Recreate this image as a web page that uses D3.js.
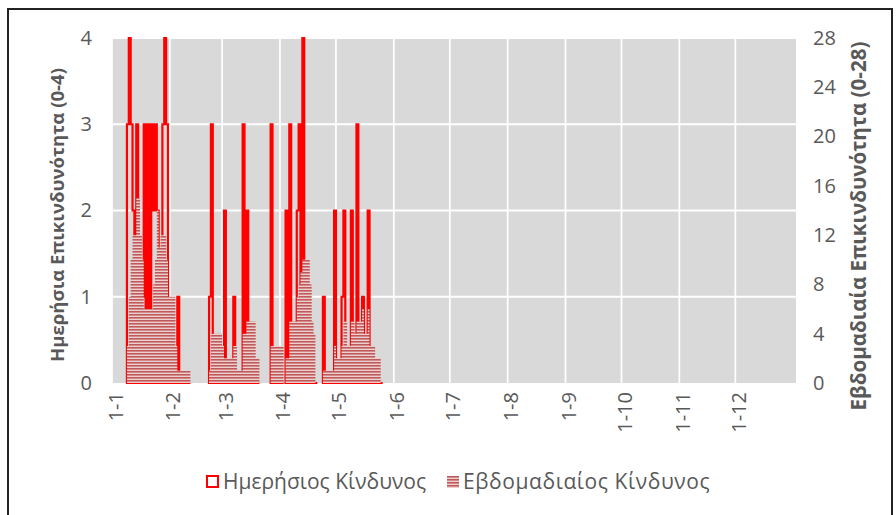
<!DOCTYPE html>
<html>
<head>
<meta charset="utf-8">
<script src="https://d3js.org/d3.v7.min.js"></script>
<style>
  body { margin: 0; background: #fff; }
  svg { display: block; }
  text { font-family: "Open Sans", sans-serif; fill: #595959; }
</style>
</head>
<body>
<div id="chart"></div>
<script>
// day 0 = 1 January, one value per day, null = no record
const startDay = "2019-01-01";
const monthLabels = ["1-1", "1-2", "1-3", "1-4", "1-5", "1-6", "1-7", "1-8", "1-9", "1-10", "1-11", "1-12"];
const leftTicks = [0, 1, 2, 3, 4];
const rightTicks = [0, 4, 8, 12, 16, 20, 24, 28];
const seriesNames = ["Ημερήσιος Κίνδυνος", "Εβδομαδιαίος Κίνδυνος"];
const axisTitles = ["Ημερήσια Επικινδυνότητα (0-4)", "Εβδομαδιαία Επικινδυνότητα (0-28)"];

const dailyRisk = [
  null, null, null, null, null, null, null, null,
  3, 4, 3, 2, 0, 3, 0, 0, 1, 3, 0, 3, 0, 3, 2, 3, 2, 1, 1, 3, 4, 3, 0, 0, 0, 0, 0, 1, 0, 0, 0, 0, 0, 0,
  null, null, null, null, null, null, null, null, null, null,
  1, 3, 0, 0, 0, 0, 0, 0, 2, 0, 0, 0, 0, 1, 0, 0, 0, 0, 3, 0, 2, 0, 0, 0, 0, 0, 0,
  null, null, null, null, null, null,
  3, 0, 0, 0, 0, 0, 0,
  null,
  2, 0, 3, 0, 0, 0, 2, 3, 1, 4, 0, 0, 0, 0, 0, 0, 0,
  null, null, null,
  1, 0, 0, 0, 0, 0, 2, 0, 0, 0, 1, 2, 0, 0, 0, 2, 0, 0, 3, 0, 0, 1, 0, 0, 2, 0, 0, 0, 0, 0, 0, 0
];

const weeklyRisk = [
  null, null, null, null, null, null, null, null,
  3, 7, 10, 12, 12, 15, 15, 12, 10, 6, 6, 6, 6, 6, 8, 10, 14, 11, 12, 12, 12, 10, 7, 7, 7, 7, 3, 1, 1, 1, 1, 1, 1, 1,
  null, null, null, null, null, null, null, null, null, null,
  1, 4, 4, 4, 4, 4, 4, 3, 2, 2, 2, 2, 2, 3, 3, 1, 1, 1, 4, 4, 5, 5, 5, 5, 5, 2, 2,
  null, null, null, null, null, null,
  3, 3, 3, 3, 3, 3, 3,
  null,
  2, 2, 5, 5, 5, 5, 7, 8, 9, 10, 10, 10, 10, 8, 5, 4, 0,
  null, null, null,
  1, 1, 1, 1, 1, 1, 3, 2, 2, 2, 3, 5, 5, 3, 3, 5, 5, 4, 5, 5, 5, 6, 4, 4, 6, 3, 3, 3, 2, 2, 2, 0
];

document.addEventListener('DOMContentLoaded', function () {
    const W = 896, H = 515;
    const margin = {top: 38, right: 100, bottom: 132, left: 112};
    const width = W - margin.left - margin.right;
    const height = H - margin.top - margin.bottom;

    const svg = d3.select("#chart").append("svg")
        .attr("width", W)
        .attr("height", H);

    // outer frame of the chart picture
    svg.append("rect")
        .attr("x", 8).attr("y", 9)
        .attr("width", 884).attr("height", 520)
        .attr("fill", "none")
        .attr("stroke", "#222")
        .attr("stroke-width", 2);

    // striped fill for the weekly series
    const pat = svg.append("defs").append("pattern")
        .attr("id", "stripes")
        .attr("patternUnits", "userSpaceOnUse")
        .attr("width", 6).attr("height", 3);
    pat.append("rect").attr("width", 6).attr("height", 3).attr("fill", "#ecd0d0");
    pat.append("rect").attr("width", 6).attr("height", 1.6).attr("fill", "#c05a5a");

    const g = svg.append("g").attr("transform", `translate(${margin.left},${margin.top})`);

    const t0 = new Date(startDay + "T00:00:00Z");
    const dayAt = i => d3.utcDay.offset(t0, i);
    const monthDates = monthLabels.map((m, i) => d3.utcMonth.offset(t0, i));

    const x = d3.scaleUtc()
        .domain([t0, new Date(t0.getTime() + 366.5 * 864e5)])
        .range([0, width]);
    const yL = d3.scaleLinear().domain([0, 4]).range([height, 0]);
    const yR = d3.scaleLinear().domain([0, 28]).range([height, 0]);

    // plot background and white gridlines
    g.append("rect").attr("width", width).attr("height", height).attr("fill", "#d9d9d9");

    g.append("g").selectAll("line")
        .data(leftTicks.filter(v => v > 0))
        .join("line")
        .attr("x1", 0).attr("x2", width)
        .attr("y1", d => yL(d)).attr("y2", d => yL(d))
        .attr("stroke", "#fff").attr("stroke-width", 2);

    g.append("g").selectAll("line")
        .data(monthDates)
        .join("line")
        .attr("x1", d => x(d)).attr("x2", d => x(d))
        .attr("y1", 0).attr("y2", height)
        .attr("stroke", "#fff").attr("stroke-width", 1.75);

    // split a daily array into runs of recorded days (step after each day)
    function runs(values) {
        const out = [];
        let cur = null;
        values.forEach((v, i) => {
            if (v === null) { cur = null; return; }
            if (!cur) { cur = []; out.push(cur); }
            cur.push({date: dayAt(i), value: v});
        });
        out.forEach(r => {
            const last = r[r.length - 1];
            r.push({date: d3.utcDay.offset(last.date, 1), value: last.value});
        });
        return out;
    }

    // daily risk: red outline only
    const dailyArea = d3.area()
        .curve(d3.curveStepAfter)
        .x(d => x(d.date))
        .y0(yL(0))
        .y1(d => yL(d.value));

    g.append("g").selectAll("path")
        .data(runs(dailyRisk))
        .join("path")
        .attr("d", dailyArea)
        .attr("fill", "none")
        .attr("stroke", "#ff0000")
        .attr("stroke-width", 2.2);

    // weekly risk: striped area on the right axis
    const weeklyArea = d3.area()
        .curve(d3.curveStepAfter)
        .x(d => x(d.date))
        .y0(yR(0))
        .y1(d => yR(d.value));

    g.append("g").selectAll("path")
        .data(runs(weeklyRisk))
        .join("path")
        .attr("d", weeklyArea)
        .attr("fill", "url(#stripes)");

    // axes
    const xAxis = g.append("g")
        .attr("transform", `translate(3,${height})`)
        .call(d3.axisBottom(x).tickValues(monthDates).tickFormat((d, i) => monthLabels[i]).tickSize(0));
    xAxis.select(".domain").remove();
    xAxis.selectAll("text")
        .attr("transform", "rotate(-90)")
        .attr("x", -9).attr("y", 0).attr("dy", "0.35em")
        .style("text-anchor", "end")
        .style("font-size", "20px")
        .attr("fill", "#595959");

    const leftAxis = g.append("g")
        .call(d3.axisLeft(yL).tickValues(leftTicks).tickFormat(d3.format("d")).tickSize(0).tickPadding(20));
    leftAxis.select(".domain").remove();
    leftAxis.selectAll("text").style("font-size", "20px").attr("fill", "#595959");

    const rightAxis = g.append("g")
        .attr("transform", `translate(${width},0)`)
        .call(d3.axisRight(yR).tickValues(rightTicks).tickSize(0).tickPadding(17));
    rightAxis.select(".domain").remove();
    rightAxis.selectAll("text").style("font-size", "20px").attr("fill", "#595959");

    // axis titles
    svg.append("text")
        .attr("transform", "translate(56,215) rotate(-90)")
        .attr("text-anchor", "middle")
        .attr("dominant-baseline", "central")
        .style("font-size", "18.6px").style("font-weight", "bold")
        .text(axisTitles[0]);

    svg.append("text")
        .attr("transform", "translate(858,226) rotate(-90)")
        .attr("text-anchor", "middle")
        .attr("dominant-baseline", "central")
        .style("font-size", "20.6px").style("font-weight", "bold")
        .text(axisTitles[1]);

    // legend
    const legend = svg.append("g").attr("transform", "translate(0,482)");
    legend.append("rect")
        .attr("x", 207).attr("y", -6).attr("width", 11).attr("height", 11)
        .attr("fill", "#fff").attr("stroke", "#ff0000").attr("stroke-width", 2);
    legend.append("text")
        .attr("x", 223).attr("dy", "0.35em")
        .style("font-size", "21px")
        .text(seriesNames[0]);
    legend.append("rect")
        .attr("x", 447).attr("y", -6).attr("width", 12).attr("height", 12)
        .attr("fill", "url(#stripes)");
    legend.append("text")
        .attr("x", 463).attr("dy", "0.35em")
        .style("font-size", "21px")
        .style("letter-spacing", "0.6px")
        .text(seriesNames[1]);
});
</script>
</body>
</html>
